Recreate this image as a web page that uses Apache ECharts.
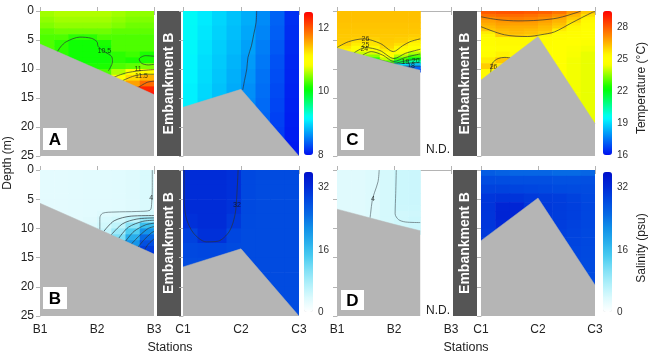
<!DOCTYPE html>
<html>
<head>
<meta charset="utf-8">
<script src="https://cdn.jsdelivr.net/npm/echarts@6/dist/echarts.min.js"></script>
<style>
  html, body { margin: 0; padding: 0; background: #fff; }
  #main { width: 653px; height: 354px; }
</style>
</head>
<body>
<div id="main"></div>
<script>
// station names (x = 0, 1, 2 on each sub panel)
var stationsB = ["B1", "B2", "B3"];
var stationsC = ["C1", "C2", "C3"];

// tick labels
var depthTicks = [0, 5, 10, 15, 20, 25];
var tickTempA = [8, 10, 12];
var tickTempC = [16, 19, 22, 25, 28];
var tickSal = [0, 16, 32];

// cell edges (station units / metres)
var xQuarter = [0, 0.25, 0.5, 0.75, 1, 1.25, 1.5, 1.75, 2];
var xQuarterND = [0, 0.25, 0.5, 0.75, 1, 1.25, 1.46];
var yMetre = [0, 1, 2, 3, 4, 5, 6, 7, 8, 9, 10, 11, 12, 13, 14, 15];
var yStep25 = [0, 2.5, 5, 7.5, 10, 12.5, 15, 17.5, 20, 22.5, 25];
var yCLeft = [0, 1, 2, 3, 4, 4.5, 5, 5.5, 6, 6.5, 7, 7.5, 8, 8.5, 9, 9.5, 10, 10.5];
var yCRight = [0, 0.5, 1, 1.5, 2, 2.5, 3, 3.5, 4, 4.5, 5, 6, 7, 8, 9, 10, 12, 14, 16, 18, 20];
var yDLeft = [0, 2, 4, 6, 7, 8, 9, 10, 11];
var yDRight = [0, 1, 2.5, 4, 5.5, 7, 8.5, 10, 11.5, 13, 15, 17.5, 20];

// A: temperature, B stations
var tempA_B = [
  [10.55, 10.6, 10.6, 10.6, 10.6, 10.55, 10.5, 10.5],
  [10.5, 10.55, 10.55, 10.55, 10.55, 10.5, 10.45, 10.45],
  [10.45, 10.5, 10.5, 10.5, 10.5, 10.45, 10.4, 10.4],
  [10.35, 10.4, 10.4, 10.4, 10.4, 10.35, 10.35, 10.35],
  [10.3, 10.3, 10.2, 10.2, 10.3, 10.3, 10.3, 10.3],
  [10.3, 10.2, 10.1, 10.1, 10.15, 10.3, 10.3, 10.3],
  [10.3, 10.2, 10.1, 10.1, 10.1, 10.3, 10.3, 10.3],
  [10.3, 10.2, 10.1, 10.1, 10.1, 10.2, 10.25, 10.15],
  [10.3, 10.2, 10.1, 10.1, 10.1, 10.2, 10.15, 10.15],
  [10.3, 10.2, 10.1, 10.15, 10.15, 10.3, 10.35, 10.45],
  [10.3, 10.2, 10.1, 10.15, 10.3, 10.6, 10.9, 11.05],
  [10.3, 10.2, 10.1, 10.15, 10.4, 10.9, 11.3, 11.5],
  [10.3, 10.2, 10.1, 10.15, 10.4, 11.1, 11.6, 11.9],
  [10.3, 10.2, 10.1, 10.15, 10.4, 11.2, 12.0, 12.3],
  [10.3, 10.2, 10.1, 10.15, 10.4, 11.2, 12.2, 12.45]
];
// A: temperature, C stations
var tempA_C = [
  [9.17, 9.07, 8.97, 8.87, 8.77, 8.6, 8.4, 8.15],
  [9.16, 9.05, 8.95, 8.85, 8.74, 8.57, 8.38, 8.14],
  [9.15, 9.03, 8.93, 8.83, 8.71, 8.54, 8.35, 8.12],
  [9.13, 9.01, 8.91, 8.8, 8.68, 8.51, 8.32, 8.11],
  [9.12, 9.0, 8.89, 8.78, 8.65, 8.48, 8.3, 8.1],
  [9.1, 8.98, 8.87, 8.76, 8.62, 8.46, 8.28, 8.09],
  [9.1, 8.97, 8.86, 8.74, 8.6, 8.44, 8.26, 8.08],
  [9.1, 8.97, 8.86, 8.73, 8.58, 8.42, 8.24, 8.07],
  [9.1, 8.97, 8.86, 8.73, 8.57, 8.4, 8.22, 8.06],
  [9.1, 8.97, 8.86, 8.73, 8.56, 8.38, 8.2, 8.05]
];
// B: salinity, B stations
var salB_B = [
  [2.8, 2.8, 2.9, 3, 3, 3.1, 3.3, 3.8],
  [2.8, 2.8, 2.9, 3, 3, 3.1, 3.3, 3.8],
  [2.8, 2.8, 2.9, 3, 3, 3.1, 3.3, 3.8],
  [2.8, 2.8, 2.9, 3, 3, 3.1, 3.3, 3.8],
  [2.8, 2.8, 2.9, 3, 3, 3.1, 3.3, 3.8],
  [2.8, 2.8, 2.9, 3, 3, 3.1, 3.3, 3.8],
  [2.8, 2.8, 2.9, 3, 3, 3.1, 3.3, 3.8],
  [2.8, 2.8, 2.9, 3, 3.4, 3.7, 3.9, 4.4],
  [2.8, 2.8, 2.9, 3.2, 4, 4.5, 6, 9],
  [2.8, 2.8, 2.9, 3.5, 4.5, 6, 10, 16],
  [2.8, 2.8, 2.9, 3.5, 5.5, 8.5, 14, 21],
  [2.8, 2.8, 2.9, 3.5, 5.5, 11, 18, 25],
  [2.8, 2.8, 2.9, 3.5, 5.5, 14, 21, 28],
  [2.8, 2.8, 2.9, 3.5, 5.5, 14, 24, 30],
  [2.8, 2.8, 2.9, 3.5, 5.5, 14, 27, 31]
];
// B: salinity, C stations
var salB_C = [
  [32, 32, 32, 31.5, 28.8, 28.5, 28.5, 28.5],
  [32, 32, 32, 31.5, 28.8, 28.5, 28.5, 28.5],
  [32, 32, 32, 31.3, 28.7, 28.5, 28.5, 28.5],
  [31.5, 32, 32, 30.5, 28.6, 28.5, 28.5, 28.5],
  [29.5, 31.5, 31.5, 29, 28.5, 28.5, 28.5, 28.5],
  [28.8, 29, 29, 28.6, 28.5, 28.5, 28.5, 28.5],
  [28.5, 28.5, 28.5, 28.5, 28.5, 28.5, 28.5, 28.5],
  [28.5, 28.5, 28.5, 28.5, 28.5, 28.5, 28.5, 28.5],
  [28.5, 28.5, 28.5, 28.5, 28.5, 28.5, 28.5, 28.5],
  [28.5, 28.5, 28.5, 28.5, 28.5, 28.5, 28.5, 28.5]
];
// C: temperature, B stations (B3 side not measured)
var tempC_B = [
  [26.3, 26.3, 26.3, 26.3, 26.3, 26.3],
  [26.3, 26.3, 26.3, 26.3, 26.3, 26.3],
  [26.25, 26.25, 26.25, 26.25, 26.25, 26.25],
  [26.2, 26.2, 26.2, 26.2, 26.2, 26.2],
  [26.15, 26.15, 26.15, 26.15, 26.15, 26.1],
  [26.15, 26.1, 26.05, 26.15, 26.1, 26.0],
  [26.1, 25.8, 25.8, 26.1, 26.05, 25.6],
  [26.05, 25.6, 25.7, 26.05, 25.8, 25.4],
  [25.7, 25.2, 25.3, 25.95, 25.4, 25.0],
  [25.4, 24.6, 24.7, 25.6, 25.0, 24.5],
  [25.4, 24.0, 24.2, 25.2, 24.5, 23.8],
  [25.4, 24.0, 23.5, 24.8, 23.8, 23.0],
  [25.4, 24.0, 22.5, 24.0, 22.8, 22.0],
  [25.4, 24.0, 22.5, 23.0, 21.5, 20.5],
  [25.4, 24.0, 22.5, 23.0, 19.0, 18.5],
  [25.4, 24.0, 22.5, 23.0, 17.5, 17.2],
  [25.4, 24.0, 22.5, 23.0, 17.0, 16.8]
];
// C: temperature, C stations
var tempC_C = [
  [28.0, 28.1, 28.1, 28.0, 27.9, 27.6, 26.9, 26.2],
  [27.6, 27.7, 27.7, 27.6, 27.4, 27.1, 26.5, 25.8],
  [27.1, 27.3, 27.4, 27.3, 27.1, 26.7, 26.2, 25.5],
  [26.8, 27.0, 27.1, 27.0, 26.8, 26.5, 25.9, 25.3],
  [26.6, 26.8, 26.8, 26.8, 26.6, 26.3, 25.6, 25.2],
  [26.4, 26.6, 26.6, 26.6, 26.4, 26.1, 25.4, 25.2],
  [26.2, 26.4, 26.5, 26.4, 26.3, 25.6, 25.3, 25.1],
  [25.6, 26.3, 26.4, 26.3, 26.1, 25.3, 25.2, 25.1],
  [25.3, 26.1, 26.2, 26.1, 25.4, 25.2, 25.2, 25.0],
  [25.2, 25.3, 25.4, 25.3, 25.2, 25.2, 25.1, 24.9],
  [25.2, 25.3, 25.3, 25.3, 25.2, 25.1, 24.9, 24.6],
  [25.1, 25.2, 25.2, 25.2, 25.1, 25.0, 24.6, 24.4],
  [25.2, 25.5, 25.3, 25.2, 25.1, 25.0, 24.5, 24.3],
  [25.6, 26.2, 25.3, 25.2, 25.1, 24.9, 24.4, 24.3],
  [26.1, 25.6, 25.3, 25.2, 25.1, 24.9, 24.4, 24.3],
  [25.3, 25.2, 25.2, 25.2, 25.1, 24.9, 24.4, 24.3],
  [25.2, 25.2, 25.2, 25.2, 25.1, 24.9, 24.4, 24.3],
  [25.2, 25.2, 25.2, 25.2, 25.1, 24.9, 24.4, 24.3],
  [25.2, 25.2, 25.2, 25.2, 25.1, 24.9, 24.4, 24.3],
  [25.2, 25.2, 25.2, 25.2, 25.1, 24.9, 24.4, 24.3]
];
// D: salinity, B stations
var salD_B = [
  [3.2, 3.2, 3.5, 4.2, 4.9, 5.0],
  [3.2, 3.2, 3.5, 4.2, 4.9, 5.0],
  [3.2, 3.2, 3.5, 4.2, 4.9, 5.0],
  [3.2, 3.2, 3.5, 4.2, 4.8, 4.9],
  [3.2, 3.2, 3.5, 4.2, 4.5, 4.7],
  [3.2, 3.2, 3.5, 4.2, 4.6, 4.9],
  [3.2, 3.2, 3.5, 4.2, 4.6, 4.9],
  [3.2, 3.2, 3.5, 4.2, 4.6, 4.9]
];
// D: salinity, C stations
var salD_C = [
  [26.5, 26, 25.5, 25.5, 25.5, 25, 25, 25.5],
  [28.3, 28.2, 28, 28, 28, 27.8, 27.8, 28],
  [29.5, 29.5, 29.3, 29, 28.8, 28.6, 28.5, 28.5],
  [30.8, 31.2, 31, 30.5, 30.2, 30, 29.5, 28.8],
  [31, 32.8, 32.8, 31, 30.5, 30.2, 29.8, 29],
  [31, 33.2, 33, 31, 30.5, 30.2, 29.8, 29],
  [30.8, 32.5, 32, 30.5, 30.5, 30, 29.6, 29],
  [30.5, 31, 30.5, 30, 30, 29.8, 29.4, 28.8],
  [30.3, 30.5, 30, 30, 29.8, 29.6, 29.2, 28.8],
  [30.3, 30.5, 30, 30, 29.8, 29.5, 29, 28.7],
  [30.3, 30.5, 30, 30, 29.8, 29.2, 28.8, 28.6],
  [30.3, 30.5, 30, 30, 29.8, 29.2, 28.6, 28.5]
];

// bottom profile (depth m at station positions)
var bedX = [0, 1, 2];
var bedXnd = [0, 1, 1.46];
var bedAB_B = [5.7, 10, 14.4];
var bedAB_C = [16.6, 13.5, 25];
var bedC_B = [6.4, 9.1, 10.2];
var bedD_B = [6.7, 9.3, 10.4];
var bedC_C = [11.9, 4.4, 19.4];
var bedD_C = [12.1, 4.8, 19.7];

// contour lines [station, depth]
var isoA_105 = [[0.3, 7.1], [0.36, 6.2], [0.46, 5.3], [0.7, 4.5], [0.9, 4.7], [1.0, 5.3], [1.02, 6.1], [1.13, 7.0], [1.26, 7.9], [1.27, 8.8], [1.2, 10.3]];
var isoA_105b = [[2, 7.8], [1.85, 7.7], [1.74, 8.3], [1.78, 9.0], [1.9, 9.3], [2, 9.2]];
var isoA_11 = [[1.3, 11.4], [1.5, 10.7], [1.75, 10.3], [2, 10.1]];
var isoA_115 = [[1.45, 12.0], [1.65, 11.2], [1.85, 10.9], [2, 10.9]];
var isoA_12 = [[1.72, 13.2], [1.88, 12.3], [2, 12.1]];
var isoA_C = [[1.27, 0], [1.26, 2], [1.22, 4], [1.18, 6], [1.12, 8], [1.1, 10], [1.06, 12], [1.03, 13.6]];
var isoB_4 = [[1.97, 0], [1.97, 3], [1.96, 5.5], [1.93, 6.9], [1.7, 7.1], [1.3, 7.2], [1.1, 7.4], [1.05, 8.2], [1.05, 10.2]];
var isoB_fan = [
  [[1.12, 10.5], [1.3, 8.7], [1.6, 7.9], [2, 7.8]],
  [[1.25, 11.1], [1.45, 9.2], [1.7, 8.4], [2, 8.2]],
  [[1.38, 11.7], [1.55, 9.8], [1.8, 8.8], [2, 8.6]],
  [[1.5, 12.2], [1.65, 10.5], [1.85, 9.4], [2, 9.1]],
  [[1.6, 12.7], [1.75, 11.2], [1.9, 10], [2, 9.7]],
  [[1.72, 13.2], [1.83, 11.9], [1.95, 10.8], [2, 10.5]],
  [[1.83, 13.7], [1.9, 12.7], [2, 11.8]]
];
var isoB_32 = [[0.02, 0], [0.02, 4], [0.05, 8], [0.18, 10.8], [0.4, 12.3], [0.6, 12.2], [0.8, 10.5], [0.9, 7.5], [0.93, 4], [0.95, 0]];
var isoC_B = [
  [[0, 6.3], [0.2, 5.3], [0.47, 4.8], [0.76, 5.6], [0.99, 7.0], [1.15, 6.0], [1.28, 5.3], [1.46, 4.8]],
  [[0.3, 7.2], [0.5, 6.3], [0.75, 6.8], [1.0, 8.2], [1.2, 7.3], [1.46, 6.6]],
  [[0.45, 7.6], [0.6, 7.0], [0.8, 7.6], [1.0, 8.7], [1.2, 8.0], [1.46, 7.4]],
  [[0.75, 8.4], [1.0, 9.0], [1.2, 8.6], [1.46, 8.2]],
  [[1.0, 9.2], [1.2, 9.0], [1.46, 8.9]],
  [[1.15, 9.5], [1.3, 9.5], [1.46, 9.5]]
];
var isoC_C = [
  [[0, 1.0], [0.3, 1.5], [0.65, 1.7], [1.0, 1.6], [1.35, 1.2], [1.7, 0.2], [1.75, 0]],
  [[0, 2.7], [0.41, 4.1], [0.82, 4.4], [1.05, 4.1], [1.29, 3.6], [1.58, 2.1], [1.96, 0.2], [2, 0.1]],
  [[0.17, 10.6], [0.2, 9.0], [0.3, 8.2], [0.42, 8.0], [0.52, 8.1]]
];
var isoD_B = [
  [[0.74, 0], [0.72, 2], [0.66, 3.8], [0.62, 5.1], [0.59, 7.4], [0.58, 8.2]],
  [[1.04, 0], [1.03, 4], [1.02, 7.5], [1.08, 8.5], [1.2, 8.9], [1.46, 9.0]]
];

// contour labels [station, depth, text]
var labA_B = [[1.13, 6.9, "10.5"], [1.72, 10.0, "11"], [1.78, 11.2, "11.5"]];
var labB_B = [[1.95, 4.8, "4"]];
var labB_C = [[0.93, 6.0, "32"]];
var labC_B = [[0.5, 4.9, "26"], [0.5, 5.8, "25"], [0.48, 6.6, "24"], [1.2, 8.8, "19"], [1.38, 8.7, "20"], [1.3, 9.5, "18"]];
var labC_C = [[0.22, 9.6, "26"]];
var labD_B = [[0.63, 5.0, "4"]];

var font = "'Liberation Sans', Arial, sans-serif";
var axisGray = "#b4b4b4";

function hexRgb(h) {
  return [parseInt(h.substr(1, 2), 16), parseInt(h.substr(3, 2), 16), parseInt(h.substr(5, 2), 16)];
}
// evenly spaced colour list from uneven stops (visualMap only takes even ones)
function ramp(stops, n) {
  var out = [];
  for (var i = 0; i < n; i++) {
    var t = i / (n - 1), k = 0;
    while (k < stops.length - 2 && t > stops[k + 1][0]) k++;
    var a = stops[k], b = stops[k + 1];
    var f = (t - a[0]) / (b[0] - a[0]);
    var ca = hexRgb(a[1]), cb = hexRgb(b[1]);
    out.push("rgb(" + [0, 1, 2].map(function (j) { return Math.round(ca[j] + (cb[j] - ca[j]) * f); }).join(",") + ")");
  }
  return out;
}
var jet = ramp([[0, "#0010f0"], [0.26, "#00ffff"], [0.46, "#00ff00"], [0.63, "#ffff00"], [0.69, "#ffff00"], [0.82, "#ff9000"], [1, "#ff0000"]], 41);
var salt = ramp([[0, "#ffffff"], [0.1, "#dcfafd"], [0.2, "#b0f0fa"], [0.3, "#80e0f6"], [0.4, "#48cbf0"], [0.5, "#28aeec"], [0.6, "#1090e8"], [0.7, "#0668e4"], [0.8, "#0048e0"], [0.9, "#0028d6"], [1, "#0010cc"]], 41);

var grids = [], xAxes = [], yAxes = [], series = [];
var vmSeries = [[], [], [], []];

function axisBase(extra) {
  return Object.assign({
    type: "value",
    axisLine: { show: true, lineStyle: { color: axisGray } },
    axisTick: { show: true, length: 4, lineStyle: { color: axisGray } },
    splitLine: { show: false }
  }, extra);
}

function addPanel(pos, names, showX, rightAxis) {
  var g = grids.length;
  grids.push(pos);
  var xi = xAxes.length;
  xAxes.push(axisBase({
    gridIndex: g, min: 0, max: 2, interval: 1, position: "bottom",
    axisLabel: { show: showX, color: "#222", fontSize: 12, margin: 8, showMinLabel: true, showMaxLabel: true,
      formatter: function (v) { return names[v]; } }
  }));
  xAxes.push(axisBase({ gridIndex: g, min: 0, max: 2, interval: 1, position: "top", axisLabel: { show: false } }));
  var yi = yAxes.length;
  yAxes.push(axisBase({
    gridIndex: g, inverse: true, min: 0, max: 25, interval: 5, position: "left",
    axisLabel: { show: false }
  }));
  if (rightAxis) {
    yAxes.push(axisBase({
      gridIndex: g, inverse: true, min: 0, max: 25, interval: 5, position: "right",
      axisLine: { show: false }, axisTick: { show: true, inside: true, length: 3, lineStyle: { color: axisGray } },
      axisLabel: { show: false }
    }));
  }
  return { x: xi, y: yi };
}

function addBar(pos, min, max, ticks) {
  var g = grids.length;
  grids.push(pos);
  xAxes.push({ gridIndex: g, type: "value", show: false, min: 0, max: 1 });
  yAxes.push({
    gridIndex: g, type: "value", min: min, max: max, position: "right",
    axisLine: { show: false }, axisTick: { show: false }, splitLine: { show: false },
    axisLabel: { customValues: ticks, color: "#333", fontSize: 10, margin: 5 }
  });
}

function drawCell(params, api) {
  var p0 = api.coord([api.value(0), api.value(2)]);
  var p1 = api.coord([api.value(1), api.value(3)]);
  return {
    type: "rect",
    shape: { x: p0[0], y: p0[1], width: p1[0] - p0[0] + 0.6, height: p1[1] - p0[1] + 0.6 },
    style: { fill: api.visual("color") }
  };
}

function cells(xe, ye, vals) {
  var out = [];
  vals.forEach(function (row, i) {
    row.forEach(function (v, j) {
      out.push([xe[j], xe[j + 1], ye[i], ye[i + 1], v]);
    });
  });
  return out;
}

function addField(ax, vm, xe, ye, vals) {
  vmSeries[vm].push(series.length);
  series.push({
    type: "custom", xAxisIndex: ax.x, yAxisIndex: ax.y, silent: true, z: 1, clip: true,
    renderItem: drawCell, encode: { x: [0, 1], y: [2, 3] }, data: cells(xe, ye, vals)
  });
}

function addIso(ax, pts, color) {
  series.push({
    type: "line", xAxisIndex: ax.x, yAxisIndex: ax.y, silent: true, z: 3, data: pts,
    symbol: "none", smooth: 0.3, lineStyle: { color: color || "#2b3238", width: 0.7 }
  });
}

function addLabels(ax, items) {
  series.push({
    type: "scatter", xAxisIndex: ax.x, yAxisIndex: ax.y, silent: true, z: 4, symbolSize: 0,
    data: items.map(function (d) { return { name: d[2], value: [d[0], d[1]] }; }),
    label: { show: true, position: "inside", formatter: "{b}", fontSize: 7, color: "#111", fontFamily: font }
  });
}

function addBed(ax, xs, ds) {
  series.push({
    type: "line", xAxisIndex: ax.x, yAxisIndex: ax.y, silent: true, z: 5, symbol: "none",
    data: xs.map(function (x, i) { return [x, ds[i]]; }),
    lineStyle: { color: "#b5b5b5", width: 0.5 },
    areaStyle: { color: "#b5b5b5", opacity: 1, origin: "end" }
  });
}

// panels
var pA1 = addPanel({ left: 40, top: 11, width: 114, height: 145 }, stationsB, false, false);
var pA2 = addPanel({ left: 183, top: 11, width: 116, height: 145 }, stationsC, false, true);
var pB1 = addPanel({ left: 40, top: 170, width: 114, height: 146 }, stationsB, true, false);
var pB2 = addPanel({ left: 183, top: 170, width: 116, height: 146 }, stationsC, true, true);
var pC1 = addPanel({ left: 337, top: 11, width: 114, height: 145 }, stationsB, false, false);
var pC2 = addPanel({ left: 481, top: 11, width: 114, height: 145 }, stationsC, false, true);
var pD1 = addPanel({ left: 337, top: 170, width: 114, height: 146 }, stationsB, true, false);
var pD2 = addPanel({ left: 481, top: 170, width: 114, height: 146 }, stationsC, true, true);

addBar({ left: 304, top: 12, width: 9, height: 143 }, 8, 12.5, tickTempA);
addBar({ left: 304, top: 172, width: 9, height: 140 }, 0, 36, tickSal);
addBar({ left: 603, top: 11, width: 9, height: 144 }, 16, 29.5, tickTempC);
addBar({ left: 603, top: 172, width: 9, height: 140 }, 0, 36, tickSal);

addField(pA1, 0, xQuarter, yMetre, tempA_B);
addField(pA2, 0, xQuarter, yStep25, tempA_C);
addField(pB1, 1, xQuarter, yMetre, salB_B);
addField(pB2, 1, xQuarter, yStep25, salB_C);
addField(pC1, 2, xQuarterND, yCLeft, tempC_B);
addField(pC2, 2, xQuarter, yCRight, tempC_C);
addField(pD1, 3, xQuarterND, yDLeft, salD_B);
addField(pD2, 3, xQuarter, yDRight, salD_C);

[isoA_105, isoA_105b, isoA_11, isoA_115, isoA_12].forEach(function (l) { addIso(pA1, l); });
addIso(pA2, isoA_C);
addIso(pB1, isoB_4, "#5a6a70");
isoB_fan.forEach(function (l) { addIso(pB1, l); });
addIso(pB2, isoB_32);
isoC_B.forEach(function (l) { addIso(pC1, l); });
isoC_C.forEach(function (l) { addIso(pC2, l); });
isoD_B.forEach(function (l) { addIso(pD1, l, "#5a6a70"); });

addLabels(pA1, labA_B);
addLabels(pB1, labB_B);
addLabels(pB2, labB_C);
addLabels(pC1, labC_B);
addLabels(pC2, labC_C);
addLabels(pD1, labD_B);

addBed(pA1, bedX, bedAB_B);
addBed(pA2, bedX, bedAB_C);
addBed(pB1, bedX, bedAB_B);
addBed(pB2, bedX, bedAB_C);
addBed(pC1, bedXnd, bedC_B);
addBed(pC2, bedX, bedC_C);
addBed(pD1, bedXnd, bedD_B);
addBed(pD2, bedX, bedD_C);

function colourBar(idx, min, max, colors, left, top, h) {
  return {
    type: "continuous", min: min, max: max, dimension: 4, seriesIndex: vmSeries[idx],
    inRange: { color: colors }, calculable: false, show: true, hoverLink: false,
    orient: "vertical", left: left, top: top, itemWidth: 9, itemHeight: h, padding: 0
  };
}

function embankment(x, y, h) {
  return [
    { type: "rect", shape: { x: x, y: y, width: 24, height: h }, style: { fill: "#555555" } },
    { type: "text", x: x + 12, y: y + h / 2, rotation: Math.PI / 2,
      style: { text: "Embankment B", fill: "#fff", font: "bold 14px " + font, align: "center", verticalAlign: "middle" } }
  ];
}
function letterBox(x, y, w, h, t) {
  return [
    { type: "rect", shape: { x: x, y: y, width: w, height: h }, style: { fill: "#fff" }, z: 100 },
    { type: "text", x: x + w / 2, y: y + h / 2 + 1, z: 101,
      style: { text: t, fill: "#000", font: "bold 17px " + font, align: "center", verticalAlign: "middle" } }
  ];
}
function plainText(x, y, t, size, rot) {
  return { type: "text", x: x, y: y, rotation: rot || 0, z: 100,
    style: { text: t, fill: "#222", font: size + "px " + font, align: "center", verticalAlign: "middle" } };
}

var graphics = []
  .concat(embankment(157, 11, 145), embankment(157, 170, 146), embankment(453, 11, 145), embankment(453, 170, 146))
  .concat(letterBox(43, 128, 24, 22, "A"), letterBox(43, 287, 24, 22, "B"), letterBox(341, 129, 23, 21, "C"), letterBox(341, 290, 23, 20, "D"))
  .concat([
    plainText(438, 150, "N.D.", 12),
    plainText(438, 311, "N.D.", 12),
    plainText(8, 163, "Depth (m)", 12, Math.PI / 2),
    plainText(170, 348, "Stations", 12.5),
    plainText(466, 348, "Stations", 12.5),
    plainText(642, 88, "Temperature (\u00b0C)", 12, Math.PI / 2),
    plainText(642, 248, "Salinity (psu)", 12, Math.PI / 2)
  ]);

var chart = echarts.init(document.getElementById("main"), null, { renderer: "canvas" });
chart.setOption({
  animation: false,
  textStyle: { fontFamily: font },
  grid: grids,
  xAxis: xAxes,
  yAxis: yAxes,
  visualMap: [
    colourBar(0, 8, 12.5, jet, 304, 12, 143),
    colourBar(1, 0, 36, salt, 304, 172, 140),
    colourBar(2, 16, 29.5, jet, 603, 11, 144),
    colourBar(3, 0, 36, salt, 603, 172, 140)
  ],
  series: series,
  graphic: graphics
});

// depth tick labels placed through the panels' own depth axes
// (the axis labels kept dropping the "0" of the lower row)
var depthLabels = [];
[pA1, pB1].forEach(function (ax) {
  var x = chart.convertToPixel({ xAxisIndex: ax.x }, 0);
  depthTicks.forEach(function (d) {
    var y = chart.convertToPixel({ yAxisIndex: ax.y }, d);
    depthLabels.push({ type: "text", x: x - 6, y: y, z: 100,
      style: { text: String(d), fill: "#222", font: "12px " + font, align: "right", verticalAlign: "middle" } });
  });
});
chart.setOption({ graphic: graphics.concat(depthLabels) });
</script>
</body>
</html>
